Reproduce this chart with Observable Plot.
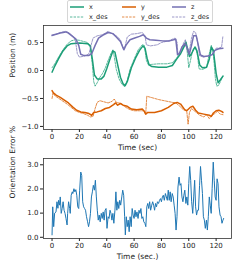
<!DOCTYPE html>
<html><head><meta charset="utf-8">
<script src="https://cdn.jsdelivr.net/npm/d3@7"></script>
<script src="https://cdn.jsdelivr.net/npm/@observablehq/plot@0.6"></script>
<style>
body{margin:0;background:#fff;font-family:"DejaVu Sans",sans-serif;}
#wrap{position:relative;width:240px;height:263px;overflow:hidden;background:#fff}
#wrap svg{display:block}
#legend{position:absolute;left:67px;top:0px;width:146px;height:23px;border:1px solid #d6d6d6;border-radius:2px;box-sizing:border-box;background:rgba(255,255,255,0.85);font-size:6.5px;color:#222}
.item{position:absolute;display:flex;align-items:center;height:8px;line-height:8px;white-space:nowrap}
.item svg{margin-right:5px}
</style></head>
<body><div id="wrap"><div id="top"></div><div id="bottom"></div><div id="legend"></div></div>
<script>
// ---- Position data (time knots in seconds, values in metres) ----
const xT = [0,2,5,8,11,14,20,26,28,29.5,31,33,36,38,40,42,44.5,46,48,50,52,53.5,55,58,61,64,66.5,68,69.5,71,73,78,84,88,91,94,96,98,99,100.5,102,104.5,106,108,110,113,115,116.5,118,120,121.5,123,125];
const xV = [-0.03,0.08,0.22,0.35,0.44,0.48,0.49,0.48,0.44,0.20,-0.08,-0.15,-0.15,-0.10,0.03,0.18,0.35,0.33,0.10,-0.12,-0.24,-0.27,-0.20,0.05,0.22,0.36,0.44,0.40,0.22,0.10,0.07,0.06,0.06,0.09,0.20,0.30,0.40,0.50,0.40,0.25,0.30,0.42,0.35,0.10,0.05,0.06,0.20,0.42,0.36,-0.05,-0.22,-0.17,-0.10];

const xdT = [0,2,5,8,11,14,17,20,23,26,28,29.5,30.5,31.5,33,35,37,39,41,43,44.5,45.5,47,49,51,53,55,57,60,63,66,67.5,69,70.5,73,78,84,88,91,93,95,97,98,99,100,101,103,105,106.5,107.5,110,113,115,116.5,118,119.5,120.5,122,124,125];
const xdV = [0.05,0.12,0.25,0.37,0.47,0.53,0.55,0.54,0.52,0.50,0.42,0.10,-0.20,-0.28,-0.22,-0.12,-0.05,0.05,0.18,0.30,0.37,0.25,0.02,-0.15,-0.24,-0.29,-0.18,0.02,0.20,0.37,0.46,0.45,0.18,0.10,0.11,0.12,0.12,0.14,0.22,0.28,0.36,0.50,0.52,0.30,0.05,0.15,0.38,0.42,0.25,0.03,0.02,0.05,0.30,0.45,0.30,-0.15,-0.28,-0.26,-0.15,-0.10];

const yT = [0,1,3,6,9,12,15,18,21,24,27,29,30.5,33,36,39,42,45,46.5,48,50,52,55,58,62,66,67.5,68.5,70,75,80,85,89,91.5,94,97,98.5,101,103,105,107,111,115,116.5,118,120,122,124,125];
const yV = [-0.36,-0.40,-0.44,-0.48,-0.53,-0.58,-0.65,-0.71,-0.74,-0.75,-0.77,-0.80,-0.75,-0.74,-0.72,-0.68,-0.66,-0.61,-0.58,-0.62,-0.59,-0.62,-0.64,-0.69,-0.70,-0.69,-0.73,-0.78,-0.75,-0.75,-0.72,-0.66,-0.59,-0.57,-0.60,-0.70,-0.72,-0.66,-0.64,-0.71,-0.76,-0.78,-0.80,-0.82,-0.76,-0.72,-0.71,-0.73,-0.75];

const ydT = [0,0.7,2,5,8,11,14,17,20,23,26,28,30,31.5,33,35,38,41,44,45.5,47,49,51,54,57,60,64,67,68.5,69.3,78,88,90.5,93,96,98.5,99.5,100.5,102,105,108,111,113,115,117,119,121,123,125];
const ydV = [-0.50,-0.40,-0.45,-0.50,-0.55,-0.60,-0.66,-0.72,-0.75,-0.77,-0.80,-0.83,-0.82,-0.68,-0.57,-0.54,-0.56,-0.58,-0.55,-0.51,-0.57,-0.58,-0.60,-0.66,-0.70,-0.72,-0.72,-0.72,-0.78,-0.46,-0.52,-0.57,-0.58,-0.63,-0.70,-0.72,-0.96,-0.75,-0.68,-0.74,-0.80,-0.83,-0.79,-0.86,-0.80,-0.77,-0.73,-0.78,-0.79];

const zT = [0,3,6,10,12,15,17.5,19.5,21,23,27,29,31.5,34,37,41,44.5,47,50,52.5,54,57,60.5,64,66.7,69,71.5,76,81,86,90.5,91.8,93,95,97,99,100.5,102,103.5,105.5,107,108.5,111,114,117,119,122,125];
const zV = [0.63,0.65,0.67,0.69,0.67,0.61,0.56,0.45,0.29,0.27,0.27,0.30,0.45,0.58,0.63,0.68,0.66,0.60,0.52,0.37,0.45,0.55,0.58,0.61,0.64,0.58,0.55,0.54,0.53,0.53,0.56,0.28,0.30,0.42,0.48,0.40,0.30,0.45,0.62,0.62,0.45,0.28,0.25,0.26,0.28,0.36,0.39,0.40];

const zdT = [0,3,6,10,12,15,17,18.5,20,24,27,28.5,30,33,37,41,44,47,50,52,53.5,55,58,62,66,68,69,72,77,80,85,90,91.5,92,94,96,97.5,99,100,102,103.5,105,106.5,108,111,115,118,120,122,124,125];
const zdV = [0.62,0.65,0.68,0.70,0.68,0.62,0.55,0.30,0.24,0.26,0.30,0.45,0.58,0.62,0.64,0.70,0.66,0.62,0.55,0.40,0.44,0.60,0.65,0.66,0.68,0.62,0.46,0.44,0.46,0.50,0.53,0.58,0.50,0.30,0.33,0.48,0.55,0.35,0.28,0.58,0.70,0.68,0.50,0.26,0.24,0.27,0.30,0.40,0.40,0.42,0.62];

// ---- Orientation error data ----
const eT = [0,0.5,1.2,1.9,2.9,3.6,4.3,4.8,5.5,6,6.7,7.4,8.1,8.8,9.5,10.2,11,11.4,12.1,12.9,13.3,14,14.8,15.2,16,16.7,17.4,18.1,18.8,19.5,20.2,21,21.7,22.4,23.1,23.8,24.5,25.2,26,26.7,27.4,28.1,28.8,29.5,30.2,31,31.7,32.4,33.1,33.8,34.5,35.2,36,36.7,37.4,38.1,38.8,39.5,40.2,41,41.7,42.4,43.1,43.8,44.5,45.2,46,46.7,47.4,48.1,48.8,49.5,50.2,51,51.7,52.4,53.1,53.6,54.3,55,55.7,56.4,57.1,57.9,58.6,59.3,60,60.7,61.4,62.1,62.9,63.6,64.3,65,65.7,66.4,67.1,67.9,68.6,69.3,70,70.7,71.4,72.1,72.9,73.6,74.3,75,75.7,76.4,77.1,77.9,78.6,79.3,80,80.7,81.4,82.1,82.9,83.6,84.3,85,85.7,86.4,87.1,87.9,88.6,89.3,90,90.7,91.4,92.1,92.9,93.6,94.3,95,95.7,96.4,97.1,97.9,98.6,99.3,100,100.7,101.4,102.1,102.9,103.6,104.3,105,105.7,106.4,107.1,107.9,108.6,109.3,110,110.7,111.4,112.1,112.9,113.6,114.3,115,115.7,116.4,117.1,117.9,118.6,119.3,120,120.7,121.4,122.1,122.9,123.6,124.3,125,125.5];
const eV = [0.1,1.26,0.44,1.0,1.05,1.47,1.2,1.53,1.33,1.67,0.99,1.19,1.47,1.12,0.99,0.78,0.51,0.99,1.47,1.19,0.99,1.74,1.88,1.81,2.01,1.88,1.97,1.74,1.26,1.19,1.95,2.7,2.56,1.47,1.26,1.19,1.12,0.85,0.64,0.44,0.64,0.99,1.67,1.88,2.15,1.95,2.36,1.67,1.12,0.71,0.92,0.64,0.99,0.78,1.05,0.71,1.12,1.19,0.37,0.85,0.78,1.12,0.99,0.71,0.99,0.58,1.12,1.88,1.12,1.47,1.19,1.53,1.33,1.67,1.95,1.74,0.85,0.1,0.85,0.44,0.71,0.23,0.85,0.44,1.19,0.92,0.78,1.12,0.85,1.05,0.78,1.12,0.99,1.19,0.78,0.85,0.64,0.58,0.44,1.26,1.4,1.19,1.47,1.12,1.33,1.47,1.33,1.12,1.4,1.26,1.47,1.4,1.53,1.6,1.47,1.67,1.74,1.53,1.81,1.67,1.53,1.95,1.53,1.88,1.47,1.81,1.67,1.33,0.99,0.30,0.85,2.08,2.49,2.15,2.22,1.67,1.47,1.74,1.95,1.4,1.67,1.33,2.22,2.93,2.36,1.47,0.99,1.67,2.36,1.26,0.92,1.12,1.12,2.15,2.93,2.36,1.81,0.85,0.71,0.37,0.71,0.30,0.85,1.67,1.33,0.99,2.01,3.11,2.36,1.67,1.53,2.42,2.22,1.26,0.92,0.85,0.58,0.71,0.78];

// ---- Ticks / labels ----
const timeTicks = [0,20,40,60,80,100,120];
const posTicks = [-1.0,-0.5,0.0,0.5];
const errTicks = [0,1,2,3];
const seriesNames = ["x","x_des","y","y_des","z","z_des"];
const seriesColors = ["#1b9e77","#1b9e77","#d95f02","#d95f02","#7570b3","#7570b3"];
const topXLabel = "Time (sec)", topYLabel = "Position (m)";
const botXLabel = "Time (sec.)", botYLabel = "Orientation Error %";

const zip = (T, V) => T.map((t, i) => ({t, v: V[i]}));
const series = [zip(xT,xV), zip(xdT,xdV), zip(yT,yV), zip(ydT,ydV), zip(zT,zV), zip(zdT,zdV)];
const isDes = n => n.endsWith("_des");

const font = {fontFamily: "'DejaVu Sans', sans-serif", fontSize: "7px", color: "#222", background: "white", overflow: "visible"};
const minus = d => d.toFixed(1).replace("-", "\u2212");

function axisLabels(xl, yl) {
  return [
    Plot.text([xl], {text: d => d, frameAnchor: "bottom", dy: 20, fontSize: 7.5, fill: "#222"}),
    Plot.text([yl], {text: d => d, frameAnchor: "left", dx: -31, rotate: -90, fontSize: 7.5, fill: "#222"})
  ];
}

const lineMarks = series.map((data, i) => Plot.line(data, {
  x: "t", y: "v", stroke: seriesColors[i],
  strokeWidth: isDes(seriesNames[i]) ? 0.9 : 1.5,
  strokeDasharray: isDes(seriesNames[i]) ? "2.4,1.2" : null,
  strokeOpacity: isDes(seriesNames[i]) ? 0.8 : 1
}));

const topPlot = Plot.plot({
  width: 240, height: 155,
  marginTop: 25, marginBottom: 26, marginLeft: 43, marginRight: 9,
  style: font,
  x: {domain: [-6.25, 131.25], ticks: timeTicks, tickSize: 3, tickPadding: 2, label: null},
  y: {domain: [-1.055, 0.805], ticks: posTicks, tickSize: 3, tickPadding: 2, tickFormat: minus, label: null},
  marks: [...lineMarks, Plot.frame({stroke: "#333", strokeWidth: 0.8}), ...axisLabels(topXLabel, topYLabel)]
});
document.getElementById("top").appendChild(topPlot);

const bottomPlot = Plot.plot({
  width: 240, height: 108,
  marginTop: 3, marginBottom: 25, marginLeft: 43, marginRight: 9,
  style: font,
  x: {domain: [-6.25, 131.25], ticks: timeTicks, tickSize: 3, tickPadding: 2, label: null},
  y: {domain: [-0.05, 3.26], ticks: errTicks, tickSize: 3, tickPadding: 2, label: null},
  marks: [
    Plot.line(zip(eT, eV), {x: "t", y: "v", stroke: "#1f77b4", strokeWidth: 1}),
    Plot.frame({stroke: "#333", strokeWidth: 0.8}),
    ...axisLabels(botXLabel, botYLabel)
  ]
});
document.getElementById("bottom").appendChild(bottomPlot);

// ---- Legend (3 columns, column-major like matplotlib) ----
const legend = document.getElementById("legend");
const colLeft = [2, 54, 104];
const rowTop = [2, 12];
seriesNames.forEach((name, i) => {
  const col = Math.floor(i / 2), row = i % 2;
  const div = document.createElement("div");
  div.className = "item";
  div.style.left = colLeft[col] + "px";
  div.style.top = rowTop[row] + "px";
  const des = isDes(name);
  div.innerHTML = `<svg width="14" height="4"><line x1="0" y1="2" x2="14" y2="2" stroke="${seriesColors[i]}" stroke-width="${des ? 0.9 : 1.5}" ${des ? 'stroke-dasharray="2.4,1.2" stroke-opacity="0.8"' : ''}/></svg><span>${name}</span>`;
  legend.appendChild(div);
});
</script></body></html>
